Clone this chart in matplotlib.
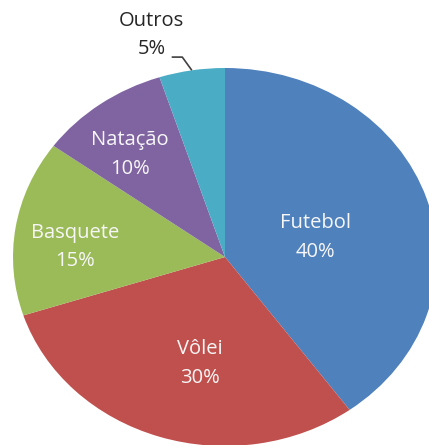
import matplotlib.pyplot as plt
import numpy as np

# sport preference pie
labels = ['Futebol', 'Vôlei', 'Basquete', 'Natação', 'Outros']
values = [40, 30, 15, 10, 5]
colors = ['#4F81BD', '#C0504D', '#9BBB59', '#8064A2', '#4BACC6']

# label placement (radius, angle shift in degrees) inside the wedges
lab_r = [0.44, 0.565, 0.71, 0.71]
lab_shift = [-3, 6, 4, 3]

fig = plt.figure(figsize=(4.29, 4.45), dpi=100)
ax = fig.add_axes([13/429, -1/445, 424/429, 378/445])
wedges, _ = ax.pie(values, colors=colors, startangle=90, counterclock=False,
                   wedgeprops=dict(linewidth=0))
ax.set_aspect('auto')
ax.set_xlim(-1, 1)
ax.set_ylim(-1, 1)
ax.axis('off')

font = 'Open Sans'
fs = 14.5
for i, w in enumerate(wedges[:4]):
    th = np.deg2rad((w.theta1 + w.theta2) / 2 + lab_shift[i])
    x, y = lab_r[i]*np.cos(th), lab_r[i]*np.sin(th)
    ax.text(x, y - 0.01, f'{labels[i]}\n{values[i]}%', ha='center', va='center',
            color='#F7F7F7', fontsize=fs, family=font, linespacing=1.57)

# outside label for the small slice
w = wedges[4]
th = np.deg2rad((w.theta1 + w.theta2) / 2)
ex, ey = np.cos(th), np.sin(th)
ax.plot([ex, ex - 0.045, ex - 0.095], [ey, ey + 0.07, ey + 0.07],
        color='#404040', lw=1.2, clip_on=False, solid_capstyle='butt')
ax.text(ex - 0.19, ey + 0.113, f'{values[4]}%', ha='center', va='center',
        color='#262626', fontsize=fs, family=font, clip_on=False)
ax.text(ex - 0.19, ey + 0.262, labels[4], ha='center', va='center',
        color='#262626', fontsize=fs, family=font, clip_on=False)

fig.savefig('out.png', dpi=100)
